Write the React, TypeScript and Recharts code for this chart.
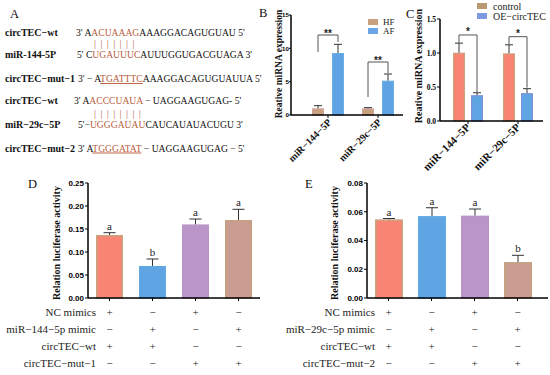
import React from 'react';
import { BarChart, Bar, XAxis, YAxis, Legend } from 'recharts';

const SERIF = '"Liberation Serif", "DejaVu Serif", serif';
const SANS = '"Liberation Sans", Arial, sans-serif';
const ORANGE = '#B8603E';

// ---------- Panel B ----------
const bCategories = ['miR−144−5P', 'miR−29c−5P'];
const bSeries = ['HF', 'AF'];
const bHF = [1.0, 1.0];
const bHFErr = [0.4, 0.1];
const bAF = [9.3, 5.15];
const bAFErr = [1.3, 1.0];
const bStars = ['**', '**'];
const bBracket = [12.0, 7.95];
const bLegLeft = [9.45, 2.7];
const bLegRight = [10.95, 6.3];
const bTicks = [0, 5, 10, 15];

// ---------- Panel C ----------
const cCategories = ['miR−144−5P', 'miR−29c−5P'];
const cSeries = ['control', 'OE−circTEC'];
const cControl = [1.005, 0.995];
const cControlErr = [0.14, 0.125];
const cOE = [0.38, 0.41];
const cOEErr = [0.035, 0.065];
const cStars = ['*', '*'];
const cBracket = [1.265, 1.24];
const cLegLeft = [1.15, 1.12];
const cLegRight = [0.42, 0.49];
const cTicks = [0, 0.5, 1.0, 1.5];

// ---------- Panel D ----------
const dGroups = ['D1', 'D2', 'D3', 'D4'];
const dValues = [0.137, 0.0696, 0.16, 0.1696];
const dErr = [0.005, 0.0152, 0.0117, 0.0232];
const dLetters = ['a', 'b', 'a', 'a'];
const dRowLabels = ['NC mimics', 'miR−144−5p mimic', 'circTEC−wt', 'circTEC−mut−1'];
const dNC = ['+', '−', '+', '−'];
const dMimic = ['−', '+', '−', '+'];
const dWt = ['+', '+', '−', '−'];
const dMut = ['−', '−', '+', '+'];
const dTicks = [0, 0.05, 0.1, 0.15, 0.2, 0.25];

// ---------- Panel E ----------
const eGroups = ['E1', 'E2', 'E3', 'E4'];
const eValues = [0.0547, 0.057, 0.0573, 0.025];
const eErr = [0.0006, 0.0058, 0.0046, 0.0047];
const eLetters = ['a', 'a', 'a', 'b'];
const eRowLabels = ['NC mimics', 'miR−29c−5p mimic', 'circTEC−wt', 'circTEC−mut−2'];
const eNC = ['+', '−', '+', '−'];
const eMimic = ['−', '+', '−', '+'];
const eWt = ['+', '+', '−', '−'];
const eMut = ['−', '−', '+', '+'];
const eTicks = [0, 0.02, 0.04, 0.06, 0.08];

const quadFill = ['#F98474', '#5FA5E3', '#BA95C7', '#CB9C91'];
const quadStroke = ['#C9A27E', '#62A8E2', '#B995C6', '#C4A27F'];

const bData = bCategories.map((name, i) => ({
  name, hf: bHF[i], hfErr: bHFErr[i], af: bAF[i], afErr: bAFErr[i],
  stars: bStars[i], bracket: bBracket[i], legL: bLegLeft[i], legR: bLegRight[i],
}));
const cData = cCategories.map((name, i) => ({
  name, ctrl: cControl[i], ctrlErr: cControlErr[i], oe: cOE[i], oeErr: cOEErr[i],
  stars: cStars[i], bracket: cBracket[i], legL: cLegLeft[i], legR: cLegRight[i],
}));
const dData = dGroups.map((name, i) => ({ name, value: dValues[i], err: dErr[i], letter: dLetters[i], i }));
const eData = eGroups.map((name, i) => ({ name, value: eValues[i], err: eErr[i], letter: eLetters[i], i }));

// ---------- shapes ----------
type ShapeOpts = {
  valKey: string; errKey: string; fill: string; stroke: string; capW: number;
  bracket?: { offset: number; starSize: number; starDy: number };
};
const makePairShape = (o: ShapeOpts) => (props: any) => {
  const { x, y, width, height, payload } = props;
  const v = payload[o.valKey];
  const k = height / v;
  const base = y + height;
  const yOf = (val: number) => base - val * k;
  const cx = x + width / 2;
  const top = yOf(v + payload[o.errKey]);
  const parts: any[] = [
    <rect key="r" x={x + 0.6} y={y + 0.6} width={width - 1.2} height={Math.max(height - 0.6, 0)} fill={o.fill} stroke={o.stroke} strokeWidth={1.2} />,
    <line key="e" x1={cx} x2={cx} y1={y} y2={top} stroke="#333" strokeWidth={1} />,
    <line key="c" x1={cx - o.capW / 2} x2={cx + o.capW / 2} y1={top} y2={top} stroke="#333" strokeWidth={1} />,
  ];
  if (o.bracket) {
    const lx = cx - o.bracket.offset;
    const yb = yOf(payload.bracket);
    parts.push(
      <polyline key="b" points={`${lx},${yOf(payload.legL)} ${lx},${yb} ${cx},${yb} ${cx},${yOf(payload.legR)}`} fill="none" stroke="#555" strokeWidth={1} />,
      <text key="s" x={(lx + cx) / 2} y={yb + o.bracket.starDy} textAnchor="middle" fontFamily={SANS} fontWeight="bold" fontSize={o.bracket.starSize} fill="#222">{payload.stars}</text>
    );
  }
  return <g>{parts}</g>;
};

const makeQuadShape = (capW: number) => (props: any) => {
  const { x, y, width, height, payload } = props;
  const v = payload.value;
  const k = height / v;
  const base = y + height;
  const yOf = (val: number) => base - val * k;
  const cx = x + width / 2;
  const top = yOf(v + payload.err);
  const i = payload.i;
  return (
    <g>
      <rect x={x + 0.75} y={y + 0.75} width={width - 1.5} height={Math.max(height - 0.75, 0)} fill={quadFill[i]} stroke={quadStroke[i]} strokeWidth={1.5} />
      <line x1={cx} x2={cx} y1={y} y2={top} stroke="#333" strokeWidth={1} />
      <line x1={cx - capW / 2} x2={cx + capW / 2} y1={top} y2={top} stroke="#333" strokeWidth={1} />
      <text x={cx} y={top - 3} textAnchor="middle" fontFamily={SERIF} fontSize={11} fill="#222">{payload.letter}</text>
    </g>
  );
};

// ---------- ticks & labels ----------
const RotTick = (props: any) => {
  const { x, y, payload, dx, dy, fs } = props;
  return (
    <text transform={`translate(${x + dx},${y + dy}) rotate(-45)`} textAnchor="end" fontFamily={SERIF} fontWeight="bold" fontSize={fs} fill="#111">
      {payload.value}
    </text>
  );
};

const TableTick = (props: any) => {
  const { x, y, payload, cats, rows, labels } = props;
  const idx = cats.indexOf(payload.value);
  const offs = [14.5, 31.5, 48.5, 65.5];
  return (
    <g fontFamily={SERIF} fontSize={11} fill="#222">
      {rows.map((r: string[], j: number) => (
        <text key={'s' + j} x={x} y={y + offs[j]} textAnchor="middle">{r[idx]}</text>
      ))}
      {idx === 0 &&
        labels.map((l: string, j: number) => (
          <text key={'l' + j} x={x - 13.5} y={y + offs[j]} textAnchor="end">{l}</text>
        ))}
    </g>
  );
};

const YTitle = (props: any) => {
  const { lx, ly, text, fs } = props;
  return (
    <text x={lx} y={ly} transform={`rotate(-90, ${lx}, ${ly})`} textAnchor="middle" dominantBaseline="central" fontFamily={SERIF} fontWeight="bold" fontSize={fs} fill="#111">
      {text}
    </text>
  );
};

const SwatchLegend = (props: any) => {
  const { payload, order, fs, rowH, sw, sh, gap } = props;
  const items = [...(payload || [])].sort((a: any, b: any) => order.indexOf(a.value) - order.indexOf(b.value));
  return (
    <div style={{ fontFamily: SERIF, fontSize: fs, color: '#222' }}>
      {items.map((p: any) => (
        <div key={p.value} style={{ display: 'flex', alignItems: 'center', height: rowH, whiteSpace: 'nowrap' }}>
          <span style={{ display: 'inline-block', width: sw, height: sh, background: p.color, marginRight: gap }} />
          <span>{p.value}</span>
        </div>
      ))}
    </div>
  );
};

const axisLine = { stroke: '#000', strokeWidth: 1.5 };
const tickLine = { stroke: '#000', strokeWidth: 1 };

// ---------- Panel A (sequence text) ----------
type Seg = [string, boolean, boolean?];
const seqRows: { label: string; y: number; x: number; segs: Seg[] }[] = [
  { label: 'circTEC−wt', y: 35.5, x: 76, segs: [["3' A", false], ['ACUAAAG', true], ["AAAGGACAGUGUAU 5'", false]] },
  { label: 'miR-144-5P', y: 57.5, x: 77, segs: [["5' C", false], ['UGAUUUC', true], ["AUUUGGUGACGUAGA 3'", false]] },
  { label: 'circTEC−mut−1', y: 82, x: 78, segs: [["3' − A", false], ['TGATTTC', true, true], ["AAAGGACAGUGUAUUA 5'", false]] },
  { label: 'circTEC−wt', y: 103.5, x: 74, segs: [["3' A", false], ['ACCCUAUA', true], [" − UAGGAAGUGAG- 5'", false]] },
  { label: 'miR−29c−5P', y: 128, x: 78, segs: [["5'−", false], ['UGGGAUAU', true], ["CAUCAUAUACUGU 3'", false]] },
  { label: 'circTEC−mut−2', y: 151.5, x: 78, segs: [["3' A", false], ['TGGGATAT', true, true], [" − UAGGAAGUGAG − 5'", false]] },
];
const pairRows = [
  { y: 47, x: 94, n: 7 },
  { y: 117, x: 94, n: 8 },
];

const Overlay = () => (
  <svg width={550} height={375} style={{ position: 'absolute', left: 0, top: 0, pointerEvents: 'none' }}>
    <g fontFamily={SERIF} fontSize={12.5} fill="#111">
      <text x={10} y={18}>A</text>
      <text x={259} y={17}>B</text>
      <text x={406} y={18}>C</text>
      <text x={28} y={188}>D</text>
      <text x={305} y={188}>E</text>
    </g>
    {seqRows.map((r, i) => (
      <g key={i}>
        <text x={5} y={r.y} fontFamily={SERIF} fontWeight="bold" fontSize={10} fill="#111">{r.label}</text>
        <text x={r.x} y={r.y} fontFamily={SERIF} fontSize={9.6} fill="#111" style={{ whiteSpace: 'pre' }}>
          {r.segs.map((s, j) => (
            <tspan key={j} fill={s[1] ? ORANGE : '#111'} textDecoration={s[2] ? 'underline' : undefined}>{s[0]}</tspan>
          ))}
        </text>
      </g>
    ))}
    {pairRows.map((p, i) => (
      <text key={'p' + i} x={p.x} y={p.y} fontFamily={SERIF} fontSize={10} fill={ORANGE} letterSpacing={4.4}>
        {'|'.repeat(p.n)}
      </text>
    ))}
  </svg>
);

export default function App() {
  return (
    <div style={{ position: 'fixed', left: 0, top: 0, width: 550, height: 375, background: '#fff', overflow: 'hidden' }}>
      {/* Panel B */}
      <div style={{ position: 'absolute', left: 230, top: 0 }}>
        <BarChart width={175} height={190} data={bData} margin={{ top: 15, right: 2, bottom: 0, left: 0 }} barSize={12} barGap={8}>
          <XAxis dataKey="name" type="category" interval={0} height={75} padding={{ left: 12, right: 0 }} axisLine={axisLine} tickLine={tickLine} tickSize={3} tickMargin={0} tick={<RotTick dx={4} dy={5} fs={10} />} />
          <YAxis type="number" domain={[0, 15]} ticks={bTicks} interval={0} width={61} axisLine={axisLine} tickLine={tickLine} tickSize={2} tickMargin={0}
            tick={{ fontSize: 6.2, fontFamily: SANS, fontWeight: 'bold', fill: '#000' }}
            label={<YTitle lx={49} ly={64} text="Reative miRNA expression" fs={9.5} />} />
          <Legend layout="vertical" align="center" verticalAlign="middle" wrapperStyle={{ left: 138, top: 17, width: 'auto' }} content={<SwatchLegend order={bSeries} fs={9} rowH={9} sw={10} sh={6} gap={5} />} />
          <Bar dataKey="hf" name={bSeries[0]} fill="#C9A07C" isAnimationActive={false} shape={makePairShape({ valKey: 'hf', errKey: 'hfErr', fill: '#C9A07C', stroke: '#D2A29A', capW: 8 })} />
          <Bar dataKey="af" name={bSeries[1]} fill="#6AA5E6" isAnimationActive={false} shape={makePairShape({ valKey: 'af', errKey: 'afErr', fill: '#5FA3E4', stroke: '#6AAEE6', capW: 8, bracket: { offset: 20, starSize: 10, starDy: 1.5 } })} />
        </BarChart>
      </div>

      {/* Panel C */}
      <div style={{ position: 'absolute', left: 400, top: 0 }}>
        <BarChart width={145} height={190} data={cData} margin={{ top: 19, right: 2, bottom: 0, left: 0 }} barSize={12} barGap={6}>
          <XAxis dataKey="name" type="category" interval={0} height={69} padding={{ left: 3, right: 0 }} axisLine={axisLine} tickLine={tickLine} tickSize={3} tickMargin={0} tick={<RotTick dx={3} dy={4} fs={11} />} />
          <YAxis type="number" domain={[0, 1.5]} ticks={cTicks} interval={0} width={40} axisLine={axisLine} tickLine={tickLine} tickSize={3} tickMargin={1}
            tickFormatter={(v: number) => v.toFixed(1)}
            tick={{ fontSize: 7.5, fontFamily: SERIF, fontWeight: 'bold', fill: '#000' }}
            label={<YTitle lx={18} ly={66} text="Reative miRNA expression" fs={10} />} />
          <Legend layout="vertical" align="center" verticalAlign="middle" wrapperStyle={{ left: 77, top: 1, width: 'auto' }} content={<SwatchLegend order={cSeries} fs={10} rowH={10} sw={10} sh={6} gap={6} />} />
          <Bar dataKey="ctrl" name={cSeries[0]} fill="#B99872" isAnimationActive={false} shape={makePairShape({ valKey: 'ctrl', errKey: 'ctrlErr', fill: '#F98474', stroke: '#C9A27E', capW: 8 })} />
          <Bar dataKey="oe" name={cSeries[1]} fill="#7E98E2" isAnimationActive={false} shape={makePairShape({ valKey: 'oe', errKey: 'oeErr', fill: '#5FA5E3', stroke: '#7E90D8', capW: 8, bracket: { offset: 18, starSize: 10, starDy: 0 } })} />
        </BarChart>
      </div>

      {/* Panel D */}
      <div style={{ position: 'absolute', left: 0, top: 175 }}>
        <BarChart width={265} height={200} data={dData} margin={{ top: 8, right: 5, bottom: 0, left: 0 }} barSize={27}>
          <XAxis dataKey="name" type="category" interval={0} height={77} axisLine={axisLine} tickLine={tickLine} tickSize={3} tickMargin={0}
            tick={<TableTick cats={dGroups} rows={[dNC, dMimic, dWt, dMut]} labels={dRowLabels} />} />
          <YAxis type="number" domain={[0, 0.25]} ticks={dTicks} interval={0} width={88} axisLine={axisLine} tickLine={tickLine} tickSize={3} tickMargin={1}
            tickFormatter={(v: number) => v.toFixed(2)}
            tick={{ fontSize: 8, fontFamily: SANS, fontWeight: 'bold', fill: '#000' }}
            label={<YTitle lx={56} ly={68} text="Relation luciferase activity" fs={10} />} />
          <Bar dataKey="value" isAnimationActive={false} shape={makeQuadShape(12)} />
        </BarChart>
      </div>

      {/* Panel E */}
      <div style={{ position: 'absolute', left: 270, top: 175 }}>
        <BarChart width={280} height={200} data={eData} margin={{ top: 8, right: 2, bottom: 0, left: 0 }} barSize={28}>
          <XAxis dataKey="name" type="category" interval={0} height={77} padding={{ left: 0, right: 9 }} axisLine={axisLine} tickLine={tickLine} tickSize={3} tickMargin={0}
            tick={<TableTick cats={eGroups} rows={[eNC, eMimic, eWt, eMut]} labels={eRowLabels} />} />
          <YAxis type="number" domain={[0, 0.08]} ticks={eTicks} interval={0} width={97} axisLine={axisLine} tickLine={tickLine} tickSize={3} tickMargin={1}
            tickFormatter={(v: number) => v.toFixed(2)}
            tick={{ fontSize: 8, fontFamily: SANS, fontWeight: 'bold', fill: '#000' }}
            label={<YTitle lx={64.5} ly={68} text="Relation luciferase activity" fs={10} />} />
          <Bar dataKey="value" isAnimationActive={false} shape={makeQuadShape(12)} />
        </BarChart>
      </div>

      <Overlay />
    </div>
  );
}
